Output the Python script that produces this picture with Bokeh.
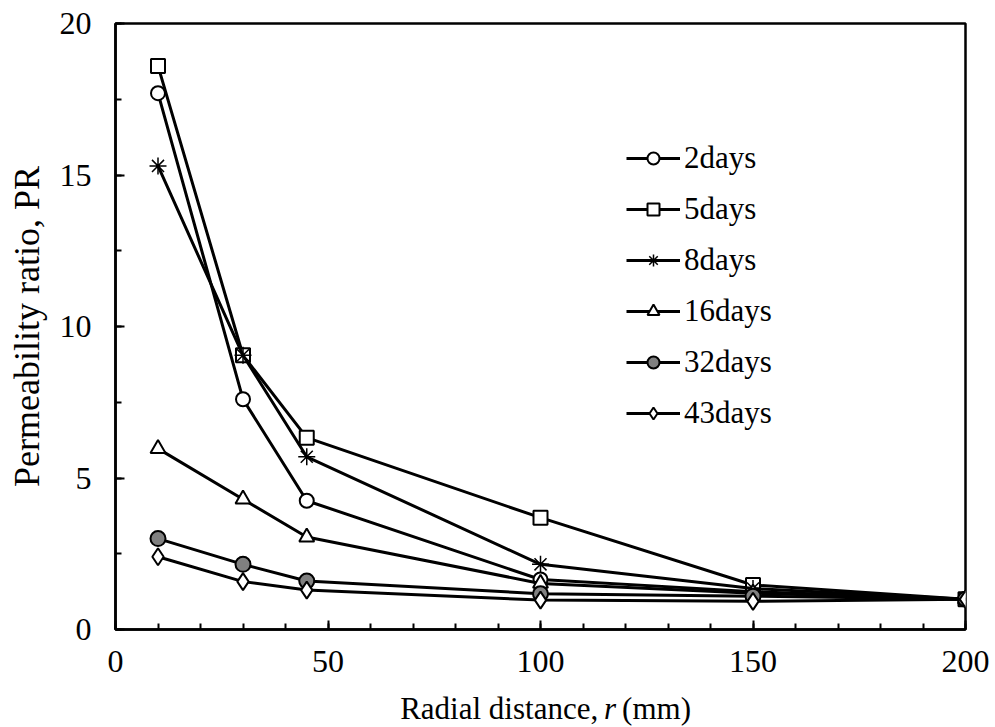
from bokeh.plotting import figure
from bokeh.models import Label, Legend, SingleIntervalTicker
from bokeh.layouts import column
from bokeh.embed import file_html
from bokeh.resources import INLINE

# ---- data ----
r_mm = [10, 30, 45, 100, 150, 200]
days_labels = ["2days", "5days", "8days", "16days", "32days", "43days"]
pr_2days = [17.7, 7.6, 4.25, 1.65, 1.25, 1.0]
pr_5days = [18.6, 9.05, 6.33, 3.69, 1.47, 1.0]
pr_8days = [15.3, 9.05, 5.7, 2.15, 1.35, 1.0]
pr_16days = [5.97, 4.3, 3.05, 1.52, 1.2, 1.0]
pr_32days = [3.0, 2.15, 1.6, 1.18, 1.1, 1.0]
pr_43days = [2.4, 1.58, 1.3, 0.97, 0.93, 1.0]

series = [pr_2days, pr_5days, pr_8days, pr_16days, pr_32days, pr_43days]
markers = ["circle", "square", "asterisk", "triangle", "circle", "diamond"]
fills = ["white", "white", "white", "white", "#808080", "white"]
msizes = [14, 14, 17, 15, 15, 17]
mwidths = [2, 2, 1.5, 2, 2, 2]

FONT = "Liberation Serif"

p = figure(frame_width=850, frame_height=606,
           x_range=(0, 200), y_range=(0, 20),
           min_border_left=115, min_border_right=30,
           min_border_top=23, min_border_bottom=61,
           output_backend="svg", toolbar_location=None)
p.background_fill_color = "white"
p.border_fill_color = "white"
p.grid.visible = False
p.outline_line_color = "black"
p.outline_line_width = 2.5
p.outline_line_alpha = 1.0

p.xaxis.ticker = SingleIntervalTicker(interval=50, num_minor_ticks=5)
p.yaxis.ticker = SingleIntervalTicker(interval=5, num_minor_ticks=2)

for ax in (p.xaxis, p.yaxis):
    ax.axis_line_width = 2.5
    ax.axis_line_color = "black"
    ax.major_tick_in = 9
    ax.major_tick_out = 0
    ax.minor_tick_in = 6
    ax.minor_tick_out = 0
    ax.major_tick_line_width = 2
    ax.minor_tick_line_width = 2
    ax.major_tick_line_color = "black"
    ax.minor_tick_line_color = "black"
    ax.major_label_text_font = FONT
    ax.major_label_text_font_size = "32px"
    ax.major_label_text_color = "black"

p.xaxis.major_label_standoff = 21
p.yaxis.major_label_standoff = 24
p.yaxis.axis_label = "Permeability ratio, PR"
p.yaxis.axis_label_text_font = FONT
p.yaxis.axis_label_text_font_size = "36px"
p.yaxis.axis_label_text_font_style = "normal"
p.yaxis.axis_label_text_color = "black"
p.yaxis.axis_label_standoff = 10

items = []
for lab, ys, mk, fc, ms, mw in zip(days_labels, series, markers, fills, msizes, mwidths):
    ln = p.line(r_mm, ys, line_color="black", line_width=3)
    sc = p.scatter(r_mm, ys, marker=mk, size=ms, fill_color=fc,
                   line_color="black", line_width=mw)
    items.append((lab, [ln, sc]))

legend = Legend(items=items, location=(511, 198))
legend.label_text_font = FONT
legend.label_text_font_size = "31px"
legend.label_text_color = "black"
legend.glyph_width = 54
legend.glyph_height = 30
legend.label_height = 30
legend.spacing = 15
legend.label_standoff = 4
legend.padding = 0
legend.margin = 0
legend.border_line_alpha = 0
legend.background_fill_alpha = 0
p.add_layout(legend, "center")

# x-axis title strip (italic r needs separate text pieces)
p2 = figure(width=995, height=37, x_range=(0, 995), y_range=(0, 37),
            x_axis_type=None, y_axis_type=None,
            min_border_left=0, min_border_right=0,
            min_border_top=0, min_border_bottom=0,
            output_backend="svg", toolbar_location=None)
p2.grid.visible = False
p2.outline_line_color = None
p2.background_fill_color = "white"
p2.border_fill_color = "white"

XFS = "31px"
base_y = 19
p2.add_layout(Label(x=565, y=base_y, text="Radial distance,", text_align="right",
                    text_baseline="alphabetic", text_font=FONT, text_font_size=XFS,
                    text_color="black"))
p2.add_layout(Label(x=579, y=base_y, text="r", text_align="center",
                    text_baseline="alphabetic", text_font=FONT, text_font_size=XFS,
                    text_font_style="italic", text_color="black"))
p2.add_layout(Label(x=593, y=base_y, text="(mm)", text_align="left",
                    text_baseline="alphabetic", text_font=FONT, text_font_size=XFS,
                    text_color="black"))

layout = column(p, p2, spacing=0)
open("out.html", "w").write(file_html(layout, INLINE))
